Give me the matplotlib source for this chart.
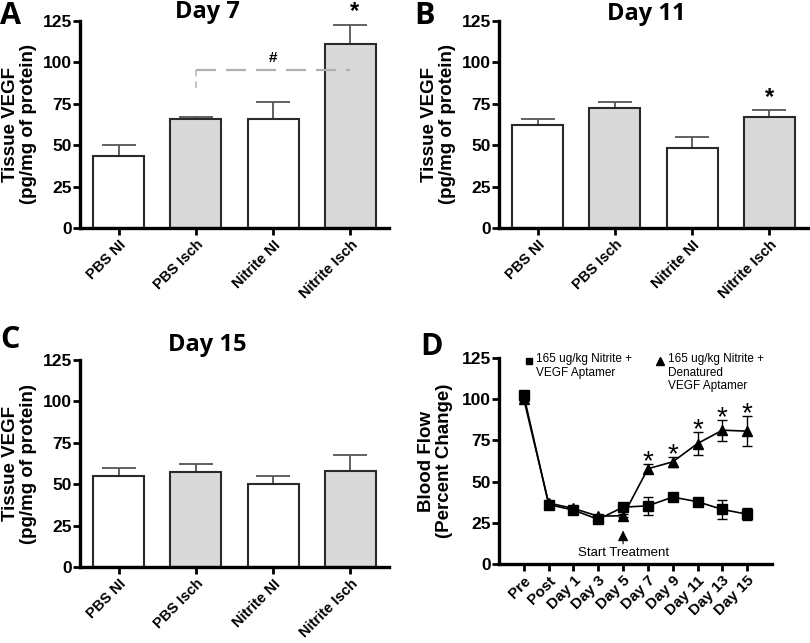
import matplotlib
matplotlib.use("Agg")
import matplotlib.pyplot as plt
import numpy as np

plt.rcParams['font.family'] = ['Liberation Sans', 'DejaVu Sans']

groups = ["PBS NI", "PBS Isch", "Nitrite NI", "Nitrite Isch"]
day7_mean = [43.7, 65.7, 66.1, 111.3]
day7_err = [6.5, 1.4, 9.9, 11.5]
day11_mean = [62.1, 72.2, 48.4, 67.1]
day11_err = [3.8, 3.8, 6.4, 4.3]
day15_mean = [55.2, 57.5, 50.2, 58.1]
day15_err = [4.7, 4.6, 4.8, 9.4]

timepoints = ["Pre", "Post", "Day 1", "Day 3", "Day 5", "Day 7", "Day 9", "Day 11", "Day 13", "Day 15"]
aptamer_mean = [102.4, 36.1, 32.7, 27.1, 34.5, 35.3, 40.6, 37.8, 33.1, 30.2]
aptamer_err = [1.0, 1.0, 1.5, 1.0, 1.0, 5.3, 1.5, 1.0, 5.6, 3.6]
denat_mean = [100.0, 37.0, 33.7, 29.0, 29.3, 57.8, 62.0, 73.1, 81.2, 80.6]
denat_err = [1.0, 1.0, 1.0, 1.0, 1.0, 2.8, 3.0, 6.8, 6.3, 9.0]
star_points = [5, 6, 7, 8, 9]

W, H = 810, 643
fig = plt.figure(figsize=(W / 100, H / 100), dpi=100)

def fr(l, r, t, b):
    return [l / W, 1 - b / H, (r - l) / W, (b - t) / H]

fills = ["white", "#d9d9d9", "white", "#d9d9d9"]

def style_axes(ax):
    for s in ["top", "right"]:
        ax.spines[s].set_visible(False)
    for s in ["left", "bottom"]:
        ax.spines[s].set_linewidth(2.4)
        ax.spines[s].set_color("black")
    ax.tick_params(axis="both", width=2.0, length=5, color="black", direction="out")
    ax.tick_params(axis="x", pad=2)
    ax.set_ylim(0, 125)
    ax.set_yticks([0, 25, 50, 75, 100, 125])
    for lab in ax.get_yticklabels():
        lab.set_fontweight("bold")
        lab.set_fontsize(12.5)
    ax.tick_params(axis="y", pad=1)

def bar_panel(ax, means, errs, ylabel):
    x = np.arange(len(groups))
    ax.bar(x, means, width=0.66, color=fills, edgecolor="#2a2a2a", linewidth=1.5, zorder=2)
    ax.errorbar(x, means, yerr=[np.zeros(len(errs)), errs], fmt="none", ecolor="#555555",
                elinewidth=1.3, capsize=12, capthick=1.3, zorder=1)
    ax.set_xlim(-0.5, 3.5)
    ax.set_xticks(x)
    ax.set_xticklabels(groups, rotation=45, ha="right", rotation_mode="anchor",
                       fontweight="bold", fontsize=10.5)
    style_axes(ax)
    ax.set_ylabel(ylabel, fontweight="bold", fontsize=13.5, linespacing=1.05, labelpad=4)

ylab = "Tissue VEGF\n(pg/mg of protein)"

axA = fig.add_axes(fr(80, 389, 21, 228))
bar_panel(axA, day7_mean, day7_err, ylab)
axA.plot([1, 1], [84.5, 95.5], ls=(0, (4, 3)), color="#bbbbbb", lw=1.2)
axA.plot([1, 3], [95.5, 95.5], ls=(0, (9, 4.5)), color="#b0b0b0", lw=1.6)
axA.text(2, 98.5, "#", ha="center", va="bottom", fontsize=11, fontweight="bold")
axA.text(3.05, 124, "*", ha="center", va="bottom", fontsize=17, fontweight="bold")

axB = fig.add_axes(fr(499, 808, 21, 228))
bar_panel(axB, day11_mean, day11_err, ylab)
axB.text(3, 72, "*", ha="center", va="bottom", fontsize=17, fontweight="bold")

axC = fig.add_axes(fr(80, 389, 360, 567))
bar_panel(axC, day15_mean, day15_err, ylab)

axD = fig.add_axes(fr(499, 772, 358, 564))
xt = np.arange(len(timepoints))
axD.errorbar(xt, aptamer_mean, yerr=aptamer_err, color="black", lw=1.2, marker="s",
             markersize=7, elinewidth=1.0, capsize=3.5, capthick=1.0, zorder=3)
axD.errorbar(xt, denat_mean, yerr=denat_err, color="black", lw=1.2, marker="^",
             markersize=7.5, elinewidth=1.0, capsize=3.5, capthick=1.0, zorder=3)
for i in star_points:
    top = denat_mean[i] + denat_err[i]
    axD.text(xt[i], top + 1.0, "*", ha="center", va="center", fontsize=20)
axD.set_xlim(-1, 10)
axD.set_xticks(xt)
axD.set_xticklabels(timepoints, rotation=45, ha="right", rotation_mode="anchor",
                    fontweight="bold", fontsize=11)
style_axes(axD)
axD.set_ylabel("Blood Flow\n(Percent Change)", fontweight="bold", fontsize=13.5,
               linespacing=1.05, labelpad=6)
axD.annotate("", xy=(4, 22), xytext=(4, 10.5),
             arrowprops=dict(arrowstyle="-|>", color="black", lw=0.8, mutation_scale=16))
axD.text(4, 6.5, "Start Treatment", ha="center", va="center", fontsize=9.5)
axD.plot([0.2], [123.2], marker="s", color="black", markersize=5, clip_on=False)
axD.text(0.5, 127.8, "165 ug/kg Nitrite +\nVEGF Aptamer", ha="left", va="top",
         fontsize=8.5, linespacing=1.15)
axD.plot([5.47], [123.2], marker="^", color="black", markersize=5.5, clip_on=False)
axD.text(5.8, 127.8, "165 ug/kg Nitrite +\nDenatured\nVEGF Aptamer", ha="left", va="top",
         fontsize=8.5, linespacing=1.15)

# Titles
fig.text(207 / W, 1 - 12 / H, "Day 7", ha="center", va="center", fontsize=17,
         fontweight="bold", family=["Open Sans", "DejaVu Sans"])
fig.text(646 / W, 1 - 14 / H, "Day 11", ha="center", va="center", fontsize=17,
         fontweight="bold", family=["Open Sans", "DejaVu Sans"])
fig.text(207 / W, 1 - 345 / H, "Day 15", ha="center", va="center", fontsize=17,
         fontweight="bold", family=["Open Sans", "DejaVu Sans"])

# Panel letters
for letter, x, y in [("A", 0, 16), ("B", 414, 16), ("C", 0, 340), ("D", 420, 347)]:
    fig.text(x / W, 1 - y / H, letter, ha="left", va="center", fontsize=22,
             fontweight="bold", family=["Open Sans", "DejaVu Sans"])

fig.savefig("out.png", dpi=100)
